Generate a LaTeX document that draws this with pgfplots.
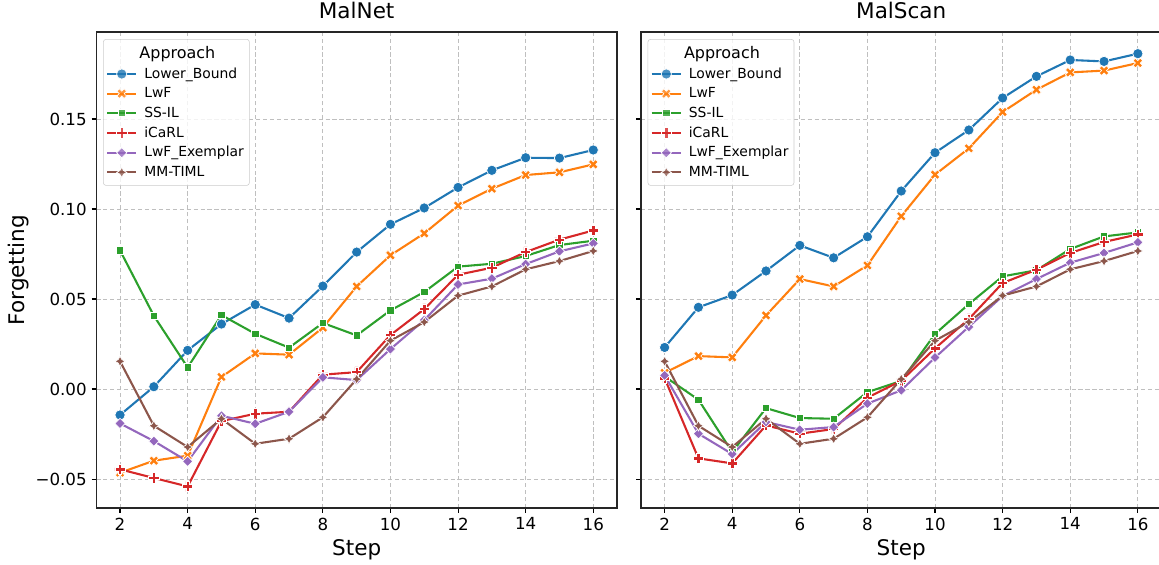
\documentclass[border=0pt]{standalone}
\usepackage{pgfplots}
\pgfplotsset{compat=1.18}
\usepackage{pgfplotstable}
\usepackage{fontspec}
\setmainfont{DejaVu Sans}

\definecolor{tblue}{HTML}{1F77B4}
\definecolor{torange}{HTML}{FF7F0E}
\definecolor{tgreen}{HTML}{2CA02C}
\definecolor{tred}{HTML}{D62728}
\definecolor{tpurple}{HTML}{9467BD}
\definecolor{tbrown}{HTML}{8C564B}

\pgfdeclareplotmark{mP}{%
 \pgfpathmoveto{\pgfqpoint{-0.3333\pgfplotmarksize}{-\pgfplotmarksize}}%
 \pgfpathlineto{\pgfqpoint{0.3333\pgfplotmarksize}{-\pgfplotmarksize}}%
 \pgfpathlineto{\pgfqpoint{0.3333\pgfplotmarksize}{-0.3333\pgfplotmarksize}}%
 \pgfpathlineto{\pgfqpoint{\pgfplotmarksize}{-0.3333\pgfplotmarksize}}%
 \pgfpathlineto{\pgfqpoint{\pgfplotmarksize}{0.3333\pgfplotmarksize}}%
 \pgfpathlineto{\pgfqpoint{0.3333\pgfplotmarksize}{0.3333\pgfplotmarksize}}%
 \pgfpathlineto{\pgfqpoint{0.3333\pgfplotmarksize}{\pgfplotmarksize}}%
 \pgfpathlineto{\pgfqpoint{-0.3333\pgfplotmarksize}{\pgfplotmarksize}}%
 \pgfpathlineto{\pgfqpoint{-0.3333\pgfplotmarksize}{0.3333\pgfplotmarksize}}%
 \pgfpathlineto{\pgfqpoint{-\pgfplotmarksize}{0.3333\pgfplotmarksize}}%
 \pgfpathlineto{\pgfqpoint{-\pgfplotmarksize}{-0.3333\pgfplotmarksize}}%
 \pgfpathlineto{\pgfqpoint{-0.3333\pgfplotmarksize}{-0.3333\pgfplotmarksize}}%
 \pgfpathclose\pgfusepathqfillstroke}
\pgfdeclareplotmark{mX}{%
 \pgfpathmoveto{\pgfqpoint{0.4714\pgfplotmarksize}{-0.9428\pgfplotmarksize}}%
 \pgfpathlineto{\pgfqpoint{0.9428\pgfplotmarksize}{-0.4714\pgfplotmarksize}}%
 \pgfpathlineto{\pgfqpoint{0.4714\pgfplotmarksize}{0pt}}%
 \pgfpathlineto{\pgfqpoint{0.9428\pgfplotmarksize}{0.4714\pgfplotmarksize}}%
 \pgfpathlineto{\pgfqpoint{0.4714\pgfplotmarksize}{0.9428\pgfplotmarksize}}%
 \pgfpathlineto{\pgfqpoint{0pt}{0.4714\pgfplotmarksize}}%
 \pgfpathlineto{\pgfqpoint{-0.4714\pgfplotmarksize}{0.9428\pgfplotmarksize}}%
 \pgfpathlineto{\pgfqpoint{-0.9428\pgfplotmarksize}{0.4714\pgfplotmarksize}}%
 \pgfpathlineto{\pgfqpoint{-0.4714\pgfplotmarksize}{0pt}}%
 \pgfpathlineto{\pgfqpoint{-0.9428\pgfplotmarksize}{-0.4714\pgfplotmarksize}}%
 \pgfpathlineto{\pgfqpoint{-0.4714\pgfplotmarksize}{-0.9428\pgfplotmarksize}}%
 \pgfpathlineto{\pgfqpoint{0pt}{-0.4714\pgfplotmarksize}}%
 \pgfpathclose\pgfusepathqfillstroke}
\pgfdeclareplotmark{mSq}{%
 \pgfpathrectanglecorners{\pgfqpoint{-0.7071\pgfplotmarksize}{-0.7071\pgfplotmarksize}}{\pgfqpoint{0.7071\pgfplotmarksize}{0.7071\pgfplotmarksize}}%
 \pgfusepathqfillstroke}
\pgfdeclareplotmark{mD}{%
 \pgfpathmoveto{\pgfqpoint{0pt}{\pgfplotmarksize}}%
 \pgfpathlineto{\pgfqpoint{\pgfplotmarksize}{0pt}}%
 \pgfpathlineto{\pgfqpoint{0pt}{-\pgfplotmarksize}}%
 \pgfpathlineto{\pgfqpoint{-\pgfplotmarksize}{0pt}}%
 \pgfpathclose\pgfusepathqfillstroke}
\pgfdeclareplotmark{mStar}{%
 \pgfpathmoveto{\pgfqpoint{0pt}{\pgfplotmarksize}}%
 \pgfpathlineto{\pgfqpoint{0.3536\pgfplotmarksize}{0.3536\pgfplotmarksize}}%
 \pgfpathlineto{\pgfqpoint{\pgfplotmarksize}{0pt}}%
 \pgfpathlineto{\pgfqpoint{0.3536\pgfplotmarksize}{-0.3536\pgfplotmarksize}}%
 \pgfpathlineto{\pgfqpoint{0pt}{-\pgfplotmarksize}}%
 \pgfpathlineto{\pgfqpoint{-0.3536\pgfplotmarksize}{-0.3536\pgfplotmarksize}}%
 \pgfpathlineto{\pgfqpoint{-\pgfplotmarksize}{0pt}}%
 \pgfpathlineto{\pgfqpoint{-0.3536\pgfplotmarksize}{0.3536\pgfplotmarksize}}%
 \pgfpathclose\pgfusepathqfillstroke}

\pgfplotstableread{
step LB LwF SSIL iCaRL LwFEx MM
2  -0.0144 -0.0465 0.0770 -0.0446 -0.0191 0.0154
3  0.0013 -0.0398 0.0407 -0.0494 -0.0289 -0.0204
4  0.0215 -0.0370 0.0120 -0.0541 -0.0402 -0.0322
5  0.0361 0.0067 0.0411 -0.0178 -0.0148 -0.0165
6  0.0469 0.0198 0.0307 -0.0137 -0.0193 -0.0304
7  0.0394 0.0191 0.0230 -0.0126 -0.0126 -0.0276
8  0.0572 0.0341 0.0367 0.0080 0.0065 -0.0157
9  0.0761 0.0570 0.0298 0.0094 0.0050 0.0055
10 0.0915 0.0743 0.0437 0.0300 0.0222 0.0269
11 0.1006 0.0865 0.0539 0.0444 0.0383 0.0372
12 0.1120 0.1019 0.0680 0.0635 0.0581 0.0519
13 0.1215 0.1113 0.0696 0.0674 0.0613 0.0570
14 0.1285 0.1189 0.0739 0.0761 0.0694 0.0665
15 0.1283 0.1204 0.0800 0.0830 0.0765 0.0711
16 0.1328 0.1248 0.0824 0.0881 0.0809 0.0767
}\malnet

\pgfplotstableread{
step LB LwF SSIL iCaRL LwFEx MM
2  0.0231 0.0090 0.0070 0.0060 0.0076 0.0154
3  0.0454 0.0183 -0.0059 -0.0385 -0.0248 -0.0204
4  0.0522 0.0176 -0.0350 -0.0413 -0.0361 -0.0322
5  0.0656 0.0409 -0.0106 -0.0202 -0.0183 -0.0165
6  0.0798 0.0611 -0.0161 -0.0248 -0.0226 -0.0304
7  0.0729 0.0570 -0.0165 -0.0222 -0.0211 -0.0276
8  0.0846 0.0687 -0.0017 -0.0048 -0.0081 -0.0157
9  0.1100 0.0960 0.0045 0.0046 -0.0007 0.0055
10 0.1313 0.1191 0.0306 0.0226 0.0175 0.0269
11 0.1439 0.1337 0.0472 0.0389 0.0346 0.0372
12 0.1617 0.1539 0.0626 0.0589 0.0517 0.0519
13 0.1737 0.1663 0.0660 0.0663 0.0611 0.0570
14 0.1828 0.1759 0.0778 0.0756 0.0702 0.0665
15 0.1820 0.1769 0.0848 0.0817 0.0756 0.0711
16 0.1863 0.1811 0.0870 0.0859 0.0815 0.0767
}\malscan

\pgfplotsset{
 base/.style={
  scale only axis, width=374.8pt, height=342.7pt,
  xmin=1.3, xmax=16.7, ymin=-0.0661, ymax=0.1983,
  xtick={2,4,...,16}, xticklabels={2,4,6,8,10,12,14,16},
  ytick={-0.05,0,0.05,0.1,0.15},
  tick align=outside, xtick pos=lower, ytick pos=left,
  major tick length=3.5pt,
  every tick/.style={black, line width=0.8pt},
  axis line style={line width=1pt, black!85},
  grid=major,
  major grid style={color=black!25, dash pattern=on 3pt off 2pt, line width=0.6pt},
  ticklabel style={font=\fontsize{12}{14}\selectfont},
  label style={font=\fontsize{15.5}{18}\selectfont},
  title style={font=\fontsize{15.5}{18}\selectfont},
  xlabel={Step},
  ylabel shift=-2pt,
  every axis plot/.append style={line width=1.5pt},
  mark size=3.7pt,
  legend cell align=left,
  legend image code/.code={\draw[mark repeat=2,mark phase=2] plot coordinates {(0pt,0pt) (10.5pt,0pt) (21pt,0pt)};},
  legend style={at={(0,1)}, anchor=north west, xshift=4.8pt, yshift=-5pt,
    draw=black!20, fill=white, fill opacity=0.8, text opacity=1, rounded corners=2pt,
    font=\fontsize{10}{12}\selectfont, row sep=1.2pt, column sep=3pt, inner xsep=2pt, inner ysep=3pt},
 },
 sLB/.style={color=tblue, mark=*, mark options={draw=white, fill=tblue, line width=0.5pt}},
 sLwF/.style={color=torange, mark=mX, mark options={draw=white, fill=torange, line width=0.5pt}},
 sSS/.style={color=tgreen, mark=mSq, mark options={draw=white, fill=tgreen, line width=0.5pt}},
 sIC/.style={color=tred, mark=mP, mark options={draw=white, fill=tred, line width=0.5pt}},
 sLE/.style={color=tpurple, mark=mD, mark options={draw=white, fill=tpurple, line width=0.5pt}},
 sMM/.style={color=tbrown, mark=mStar, mark options={draw=white, fill=tbrown, line width=0.5pt}},
}

\begin{document}
\begin{tikzpicture}
\begin{axis}[base, at={(0pt,0pt)}, anchor=south west, title={MalNet}, ylabel={Forgetting},
  yticklabels={−0.05,0.00,0.05,0.10,0.15}]
\addlegendimage{empty legend}\addlegendentry{\hspace*{-3.5pt}{\fontsize{11.5}{13}\selectfont Approach}}
\addplot[sLB] table[x=step,y=LB] {\malnet};\addlegendentry{Lower\_Bound}
\addplot[sLwF] table[x=step,y=LwF] {\malnet};\addlegendentry{LwF}
\addplot[sSS] table[x=step,y=SSIL] {\malnet};\addlegendentry{SS-IL}
\addplot[sIC] table[x=step,y=iCaRL] {\malnet};\addlegendentry{iCaRL}
\addplot[sLE] table[x=step,y=LwFEx] {\malnet};\addlegendentry{LwF\_Exemplar}
\addplot[sMM] table[x=step,y=MM] {\malnet};\addlegendentry{MM-TIML}
\end{axis}
\begin{axis}[base, at={(392.1pt,0pt)}, anchor=south west, title={MalScan},
  yticklabels={}]
\addlegendimage{empty legend}\addlegendentry{\hspace*{-3.5pt}{\fontsize{11.5}{13}\selectfont Approach}}
\addplot[sLB] table[x=step,y=LB] {\malscan};\addlegendentry{Lower\_Bound}
\addplot[sLwF] table[x=step,y=LwF] {\malscan};\addlegendentry{LwF}
\addplot[sSS] table[x=step,y=SSIL] {\malscan};\addlegendentry{SS-IL}
\addplot[sIC] table[x=step,y=iCaRL] {\malscan};\addlegendentry{iCaRL}
\addplot[sLE] table[x=step,y=LwFEx] {\malscan};\addlegendentry{LwF\_Exemplar}
\addplot[sMM] table[x=step,y=MM] {\malscan};\addlegendentry{MM-TIML}
\end{axis}
\pgfresetboundingbox
\path[use as bounding box] (-69.4pt,-41.0pt) rectangle (765.1pt,365.8pt);
\end{tikzpicture}
\end{document}
